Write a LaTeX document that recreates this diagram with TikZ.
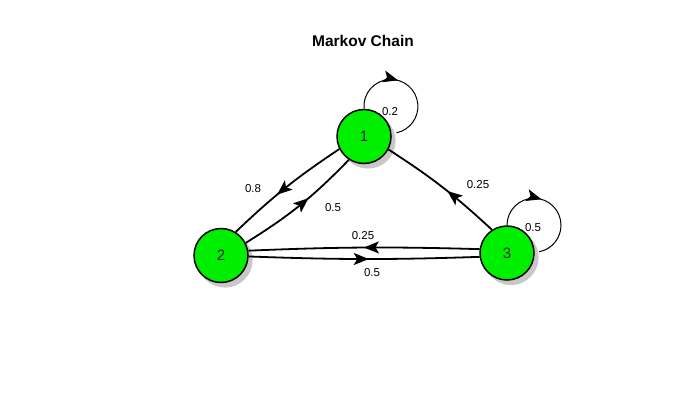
\documentclass[tikz,border=0pt]{standalone}
\usepackage{fontspec}
\setmainfont{Liberation Sans}
\usetikzlibrary{arrows.meta,decorations.markings}
\pgfdeclarelayer{bg}
\pgfsetlayers{bg,main}
\definecolor{nodegreen}{RGB}{0,238,0}
\definecolor{shadowgray}{RGB}{200,200,200}
\tikzset{
  state/.style={circle, draw=black, line width=1.5pt, fill=nodegreen, minimum size=54pt,
    inner sep=0pt, font=\fontsize{15}{18}\selectfont, text=black!85},
  edgeline/.style={line width=1.8pt},
  loopline/.style={line width=1pt},
  midarrow/.style={postaction={decorate}, decoration={markings,
    mark=at position #1 with {\arrow{Stealth[length=15pt,width=12pt,inset=3.5pt]}}}},
  lbl/.style={font=\fontsize{11.5}{13}\selectfont, inner sep=0pt},
  titlestyle/.style={font=\fontsize{15.5}{18}\selectfont\bfseries, inner sep=0pt},
}
\begin{document}
\begin{tikzpicture}[x=1pt,y=1pt]
\useasboundingbox (0,0) rectangle (690,410);

\node[titlestyle] (title) at (363,369) {Markov Chain};

\node[state] (n1) at (364,273.5) {1};
\node[state] (n2) at (221,154.5) {2};
\node[state] (n3) at (507,157) {3};

\begin{pgfonlayer}{bg}
  \fill[white] (0,0) rectangle (690,410);
  \draw[loopline, midarrow=0.42] (n1.north) arc[start angle=185, end angle=-78, radius=27];
  \draw[loopline, midarrow=0.41] (n3.north) arc[start angle=180, end angle=-79, radius=27];
  \fill[shadowgray] ([shift={(4,-4.5)}]n1.center) circle[radius=27.6];
  \fill[shadowgray] ([shift={(4,-4.5)}]n2.center) circle[radius=27.6];
  \fill[shadowgray] ([shift={(4,-4.5)}]n3.center) circle[radius=27.6];
\end{pgfonlayer}

\draw[edgeline, midarrow=0.58] (n1.207) to[bend right=5] (n2.58);
\draw[edgeline, midarrow=0.58] (n2.27) to[bend right=7] (n1.237);
\draw[edgeline, midarrow=0.45] (n3.123) to[bend right=5] (n1.332);
\draw[edgeline, midarrow=0.5] (n3.172) to[bend right=2] (n2.10);
\draw[edgeline, midarrow=0.52] (n2.-2) to[bend right=2] (n3.188);

\node[lbl] (l11) at (390,298) {0.2};
\node[lbl] (l33) at (533,182) {0.5};
\node[lbl] (l12) at (253,221) {0.8};
\node[lbl] (l21) at (333,202) {0.5};
\node[lbl] (l31) at (478,225) {0.25};
\node[lbl] (l32) at (363,174) {0.25};
\node[lbl] (l23) at (372,137) {0.5};
\end{tikzpicture}
\end{document}
